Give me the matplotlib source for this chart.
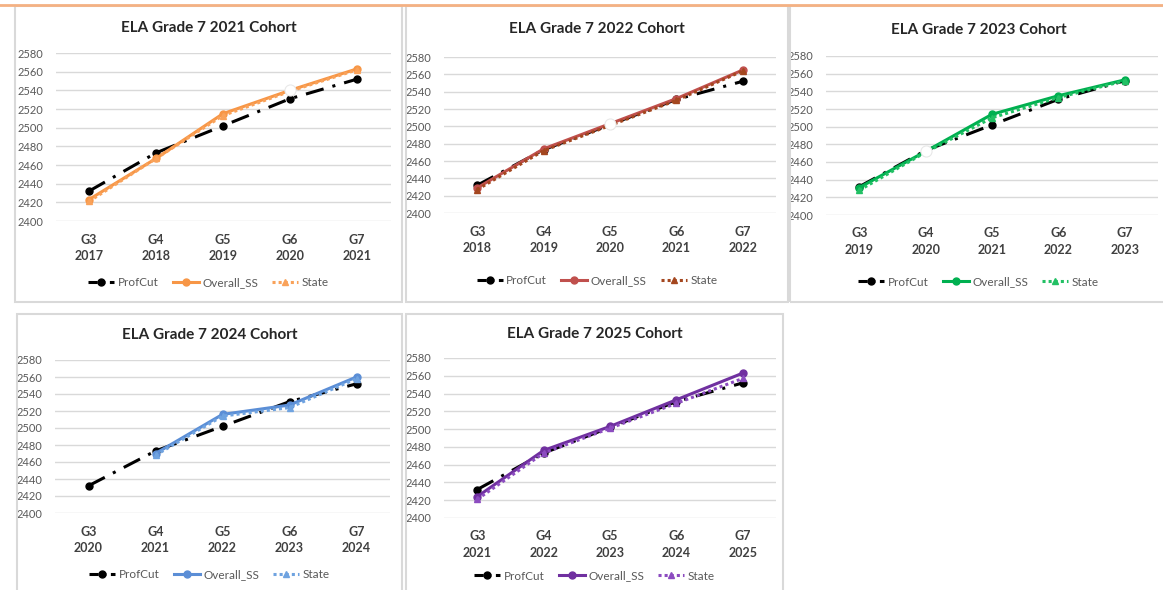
import numpy as np
import matplotlib.pyplot as plt
from matplotlib import font_manager
from matplotlib.lines import Line2D
from matplotlib.patches import Rectangle

# pick a narrow Calibri-like face if there is one
names = {f.name for f in font_manager.fontManager.ttflist}
body_font = next((n for n in ['Liberation Sans Narrow', 'Lato', 'DejaVu Sans'] if n in names), 'DejaVu Sans')
title_font = next((n for n in ['Lato', 'Open Sans', 'DejaVu Sans'] if n in names), 'DejaVu Sans')
plt.rcParams['font.family'] = [body_font, 'DejaVu Sans']

W, H = 1163, 590

grades = ['G3', 'G4', 'G5', 'G6', 'G7']
prof_cut = [2432, 2473, 2502, 2531, 2552]
cohorts = [2021, 2022, 2023, 2024, 2025]

overall_2021 = [2423, 2467, 2515, 2540, 2563]
state_2021 = [2421, 2467, 2513, 2539, 2562]
overall_2022 = [2429, 2474, 2503, 2532, 2565]
state_2022 = [2427, 2472, 2501, 2530, 2564]
overall_2023 = [2431, 2472, 2514, 2535, 2553]
state_2023 = [2428, 2471, 2510, 2533, 2552]
overall_2024 = [np.nan, 2470, 2516, 2527, 2560]
state_2024 = [np.nan, 2468, 2514, 2524, 2558]
overall_2025 = [2424, 2476, 2503, 2533, 2563]
state_2025 = [2421, 2473, 2501, 2529, 2557]

overall = [overall_2021, overall_2022, overall_2023, overall_2024, overall_2025]
state = [state_2021, state_2022, state_2023, state_2024, state_2025]
overall_col = ['#F79646', '#C0504D', '#00B050', '#5B8ED6', '#7030A0']
state_col = ['#F9A25A', '#A4471F', '#22C064', '#6FA3E0', '#8C4CC0']

# chart boxes (px): left, top, right, bottom
boxes = [(15, 6, 402, 302), (406, 6, 788, 302), (790, 6, 1175, 302),
         (17, 314, 402, 600), (406, 314, 783, 600)]
# plot areas (px): left, right, y of 2580, y of 2400
plots = [(55.5, 390.5, 53, 221), (444, 776, 57, 213), (826, 1158, 56, 215),
         (55, 390, 360, 513), (444, 776, 358, 518)]
title_y = [28, 29, 30, 335, 334]
legend_y = [283, 281, 282, 575, 576]

fig = plt.figure(figsize=(W / 100, H / 100), dpi=100)
fig.add_artist(Line2D([0, 1], [1 - 5 / H, 1 - 5 / H], color='#F4B183', lw=2))

for i, c in enumerate(cohorts):
    bl, bt, br, bb = boxes[i]
    fig.add_artist(Rectangle((bl / W, 1 - bb / H), (br - bl) / W, (bb - bt) / H,
                             fill=False, edgecolor='#D9D9D9', lw=1.5))
    x0, x1, yt, yb = plots[i]
    ax = fig.add_axes([x0 / W, 1 - yb / H, (x1 - x0) / W, (yb - yt) / H])
    x = np.arange(len(grades))
    ax.plot(x, prof_cut, color='black', lw=2.2, ls=(0, (6, 3, 1, 3)),
            marker='o', ms=5, zorder=3)
    ax.plot(x, overall[i], color=overall_col[i], lw=2.2, marker='o', ms=5, zorder=4)
    ax.plot(x, state[i], color=state_col[i], lw=2.2, ls=(0, (1, 1)),
            marker='^', ms=5, zorder=5)
    # no test in 2020: that point is shown hollow
    k = 2020 - (c - 4)
    if 0 <= k < 5 and not np.isnan(overall[i][k]):
        ax.plot([k], [overall[i][k]], marker='o', ms=8, mfc='white',
                mec='#E8E8E8', mew=0.8, zorder=6)
    ax.set_xlim(-0.5, 4.5)
    ax.set_ylim(2400, 2580)
    ax.set_yticks(range(2400, 2581, 20))
    ax.set_xticks(x)
    ax.set_xticklabels([f'{g}\n{c - 4 + j}' for j, g in enumerate(grades)],
                       fontweight='bold', fontsize=9, color='#404040', linespacing=1.45)
    ax.tick_params(axis='y', length=0, pad=9, labelsize=8, labelcolor='#595959')
    ax.tick_params(axis='x', length=0, pad=9)
    ax.grid(axis='y', color='#D9D9D9', lw=1)
    ax.set_axisbelow(True)
    for s in ax.spines.values():
        s.set_visible(False)

    cx = (bl + min(br, 1167)) / 2
    fig.text(cx / W, 1 - title_y[i] / H, f'ELA Grade 7 {c} Cohort', ha='center',
             va='center', fontsize=11, fontweight='bold', color='#262626',
             family=[title_font, 'DejaVu Sans'])
    handles = [
        Line2D([], [], color='black', lw=2.2, ls=(0, (3, 1.5, 1, 1.5)), marker='o', ms=5),
        Line2D([], [], color=overall_col[i], lw=2.2, marker='o', ms=5),
        Line2D([], [], color=state_col[i], lw=2.2, ls=(0, (1, 1)), marker='^', ms=5),
    ]
    fig.legend(handles, ['ProfCut', 'Overall_SS', 'State'], loc='center',
               bbox_to_anchor=(cx / W, 1 - legend_y[i] / H), ncol=3, frameon=False,
               fontsize=8.5, labelcolor='#595959', handlelength=2.2,
               handletextpad=0.3, columnspacing=1.2)

fig.savefig('out.png', dpi=100, facecolor='white')
